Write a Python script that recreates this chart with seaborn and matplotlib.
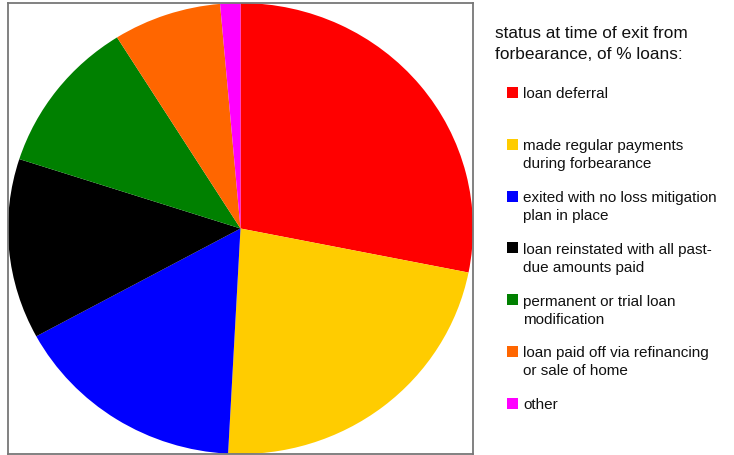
import matplotlib.pyplot as plt
import seaborn as sns
from matplotlib.patches import Rectangle

sns.set_theme(style="white")
plt.rcParams["font.family"] = ["Liberation Sans", "DejaVu Sans"]

TITLE = "status at time of exit from\nforbearance, of % loans:"
LABELS = [
    "loan deferral",
    "made regular payments\nduring forbearance",
    "exited with no loss mitigation\nplan in place",
    "loan reinstated with all past-\ndue amounts paid",
    "permanent or trial loan\nmodification",
    "loan paid off via refinancing\nor sale of home",
    "other",
]
SHARES = [28.1, 22.7, 16.2, 12.9, 11.1, 7.5, 1.4]
COLORS = ["#ff0000", "#ffcc00", "#0000ff", "#000000", "#008000", "#ff6600", "#ff00ff"]

W, H = 734, 456


def put_lines(fig, x, y0, text, step, **kw):
    # one text per line so the line pitch is exact (pixels from top)
    for k, line in enumerate(text.split("\n")):
        fig.text(x / W, 1 - (y0 + k * step) / H, line, va="baseline", ha="left", **kw)


def main() -> None:
    fig = plt.figure(figsize=(W / 100, H / 100), dpi=100)
    ax = fig.add_axes([8 / W, 1 / H, 465 / W, 451 / H])

    ax.pie(
        SHARES,
        colors=COLORS,
        startangle=90,
        counterclock=False,
        wedgeprops={"linewidth": 0},
    )
    # stretch the pie to fill the framed box, like the original
    ax.set_aspect("auto")
    ax.set_xlim(-1, 1)
    ax.set_ylim(-1, 1)
    ax.set_frame_on(True)
    for sp in ax.spines.values():
        sp.set_visible(True)
        sp.set_color("#777777")
        sp.set_linewidth(1.3)
    ax.set_xticks([])
    ax.set_yticks([])

    # legend, drawn by hand so the swatch sits on the first line
    put_lines(fig, 495, 38.3, TITLE, 20.5, fontsize=12.4, color="#111111")
    for i, (lab, col) in enumerate(zip(LABELS, COLORS)):
        top = 88 + 51.8 * i
        fig.patches.append(Rectangle((507 / W, 1 - (top + 11) / H), 11 / W, 11 / H,
                                     transform=fig.transFigure, facecolor=col,
                                     edgecolor="none"))
        put_lines(fig, 523, top + 10.5, lab, 18, fontsize=11, color="#111111")

    fig.savefig("out.png", dpi=100)


if __name__ == "__main__":
    main()
